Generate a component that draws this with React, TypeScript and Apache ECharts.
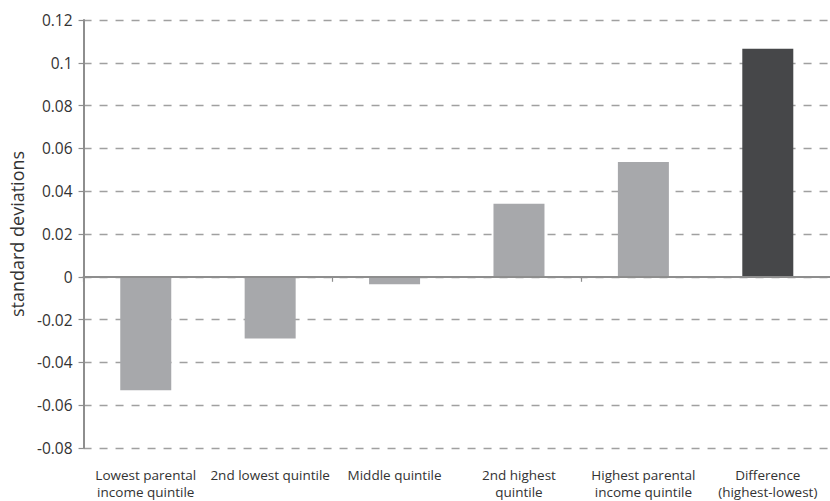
import React, { useEffect, useRef } from "react";
import * as echarts from "echarts";

const categories = [
  "Lowest parental\nincome quintile",
  "2nd lowest quintile",
  "Middle quintile",
  "2nd highest\nquintile",
  "Highest parental\nincome quintile",
  "Difference\n(highest-lowest)",
];
const values = [-0.053, -0.0288, -0.0035, 0.0341, 0.0536, 0.1066];
const barColors = ["#a7a8ab", "#a7a8ab", "#a7a8ab", "#a7a8ab", "#a7a8ab", "#464749"];
const yMin = -0.08;
const yMax = 0.12;
const yStep = 0.02;
const yName = "standard deviations";

const FONT = "'Open Sans', 'Noto Sans', sans-serif";
const TEXT = "#333333";
const AXIS = "#8e8e8e";

export default function App() {
  const ref = useRef<HTMLDivElement>(null);
  useEffect(() => {
    if (!ref.current) return;
    const chart = echarts.init(ref.current, undefined, { renderer: "svg" });
    chart.setOption({
      animation: false,
      grid: { left: 82, top: 20, width: 756, height: 430, containLabel: false },
      xAxis: [
        {
          type: "category",
          data: categories,
          position: "top",
          z: 5,
          axisLine: { show: true, onZero: true, lineStyle: { color: AXIS, width: 2 } },
          axisTick: { show: true, inside: true, length: 5, lineStyle: { color: AXIS, width: 1.2 } },
          axisLabel: { show: false },
          splitLine: { show: false },
        },
        {
          type: "category",
          data: categories,
          position: "bottom",
          axisLine: { show: false, onZero: false },
          axisTick: { show: false },
          axisLabel: {
            show: true,
            interval: 0,
            margin: 18,
            fontFamily: FONT,
            fontSize: 13.5,
            lineHeight: 17.5,
            color: TEXT,
          },
          splitLine: { show: false },
        },
      ],
      yAxis: {
        type: "value",
        min: yMin,
        max: yMax,
        interval: yStep,
        name: yName,
        nameLocation: "middle",
        nameGap: 57,
        nameTextStyle: { fontFamily: FONT, fontSize: 18, color: TEXT },
        axisLine: { show: true, lineStyle: { color: AXIS, width: 2 } },
        axisTick: { show: true, length: 5, lineStyle: { color: AXIS, width: 1.2 } },
        axisLabel: {
          margin: 11,
          fontFamily: FONT,
          fontSize: 15.5,
          color: TEXT,
          formatter: (v: number) => String(parseFloat(v.toFixed(2))),
        },
        splitLine: {
          show: true,
          lineStyle: { color: "#a0a0a0", width: 1.3, type: [8, 8] },
        },
      },
      series: [
        {
          type: "bar",
          xAxisIndex: 1,
          barWidth: 51,
          data: values.map((v, i) => ({ value: v, itemStyle: { color: barColors[i] } })),
        },
      ],
    });
    return () => chart.dispose();
  }, []);
  return (
    <div
      ref={ref}
      style={{ position: "fixed", left: 0, top: 0, width: 830, height: 501, background: "#fff" }}
    />
  );
}
